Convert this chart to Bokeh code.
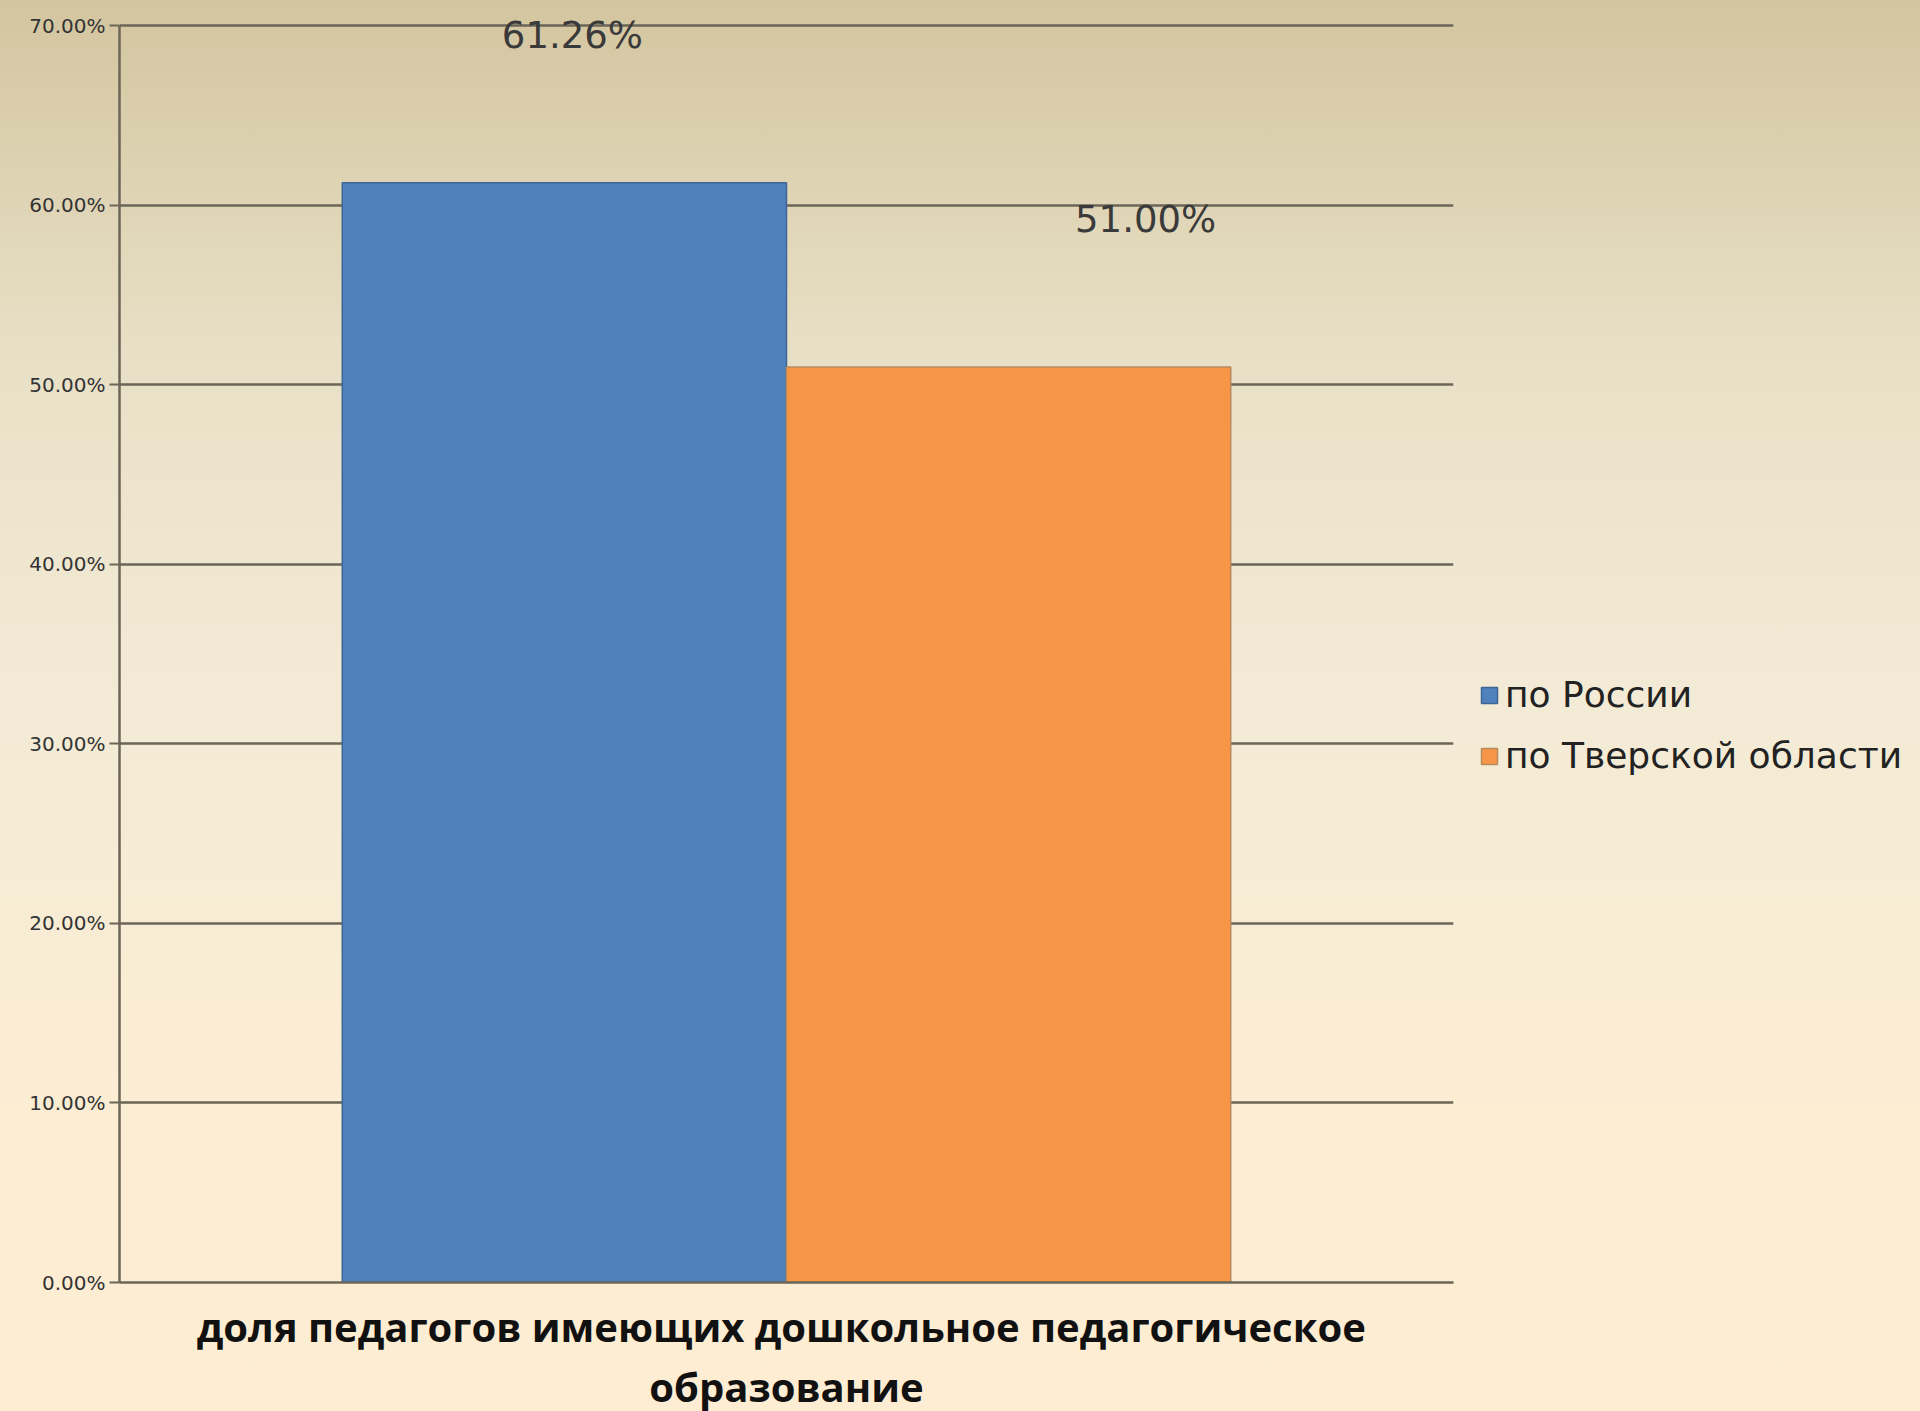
from bokeh.plotting import figure
from bokeh.models import (FactorRange, Range1d, FixedTicker, PrintfTickFormatter,
                          Legend, LegendItem, ColumnDataSource, LabelSet)
from bokeh.transform import dodge
from bokeh.core.properties import value
from bokeh.embed import file_html
from bokeh.resources import INLINE

# ---- data ----
category = ["доля педагогов  имеющих дошкольное педагогическое\nобразование"]
series_names = ["по России", "по Тверской области"]
russia = [61.26]
tver = [51.00]
russia_labels = ["61.26%"]
tver_labels = ["51.00%"]
y_ticks = [0, 10, 20, 30, 40, 50, 60, 70]

blue = "#4f81bd"
orange = "#f79646"

p = figure(x_range=FactorRange(factors=category, range_padding=0),
           y_range=Range1d(0, 71.3),
           frame_width=1334, frame_height=1280,
           output_backend="svg", toolbar_location=None,
           min_border_left=119, min_border_right=0,
           min_border_top=2, min_border_bottom=0)

p.background_fill_alpha = 0
p.border_fill_alpha = 0
p.outline_line_color = None
p.styles = {"background": "linear-gradient(to bottom, #d3c59f 0%, #e8e0c6 25%, #f3ebd6 50%, #fbedd3 75%, #feedd2 100%)"}

src_r = ColumnDataSource(dict(x=category, top=russia, label=russia_labels))
src_t = ColumnDataSource(dict(x=category, top=tver, label=tver_labels))

r1 = p.vbar(x=dodge("x", -0.1665, range=p.x_range), top="top", width=0.333,
            source=src_r, fill_color=blue, line_color="#3d6596", line_width=1.5)
r2 = p.vbar(x=dodge("x", 0.1665, range=p.x_range), top="top", width=0.333,
            source=src_t, fill_color=orange, line_color="#b88a5e", line_width=1.5)

p.add_layout(LabelSet(x=dodge("x", -0.1665, range=p.x_range), y="top", text="label",
                      source=src_r, x_offset=8, y_offset=147,
                      text_align="center", text_baseline="middle",
                      text_font=value("DejaVu Sans"), text_font_size=value("37px"),
                      text_color=value("#3a3a3a")))
p.add_layout(LabelSet(x=dodge("x", 0.1665, range=p.x_range), y="top", text="label",
                      source=src_t, x_offset=137, y_offset=147,
                      text_align="center", text_baseline="middle",
                      text_font=value("DejaVu Sans"), text_font_size=value("37px"),
                      text_color=value("#3a3a3a")))

# grid
p.xgrid.grid_line_color = None
p.ygrid.ticker = FixedTicker(ticks=y_ticks)
p.ygrid.grid_line_color = "#6b6658"
p.ygrid.grid_line_width = 2.5

# y axis
p.yaxis.ticker = FixedTicker(ticks=y_ticks)
p.yaxis.bounds = (0, 70)
p.yaxis.formatter = PrintfTickFormatter(format="%.2f%%")
p.yaxis.axis_line_color = "#6b6658"
p.yaxis.axis_line_width = 2.5
p.yaxis.major_tick_line_color = "#6b6658"
p.yaxis.major_tick_line_width = 2
p.yaxis.major_tick_out = 10
p.yaxis.major_tick_in = 0
p.yaxis.minor_tick_line_color = None
p.yaxis.major_label_standoff = 4
p.yaxis.major_label_text_font = "DejaVu Sans"
p.yaxis.major_label_text_font_size = "20px"
p.yaxis.major_label_text_color = "#333333"

# x axis
p.xaxis.axis_line_color = "#6b6658"
p.xaxis.axis_line_width = 2.5
p.xaxis.major_tick_line_color = None
p.xaxis.minor_tick_line_color = None
p.xaxis.major_label_standoff = 10
p.xaxis.major_label_text_font = "Open Sans"
p.xaxis.major_label_text_font_style = "bold"
p.xaxis.major_label_text_font_size = "40px"
p.xaxis.major_label_text_line_height = 1.1
p.xaxis.major_label_text_color = "#111111"
p.xaxis.major_label_orientation = "horizontal"

legend = Legend(items=[LegendItem(label=series_names[0], renderers=[r1]),
                       LegendItem(label=series_names[1], renderers=[r2])],
                location=(26, 506), orientation="vertical",
                margin=0, padding=4, spacing=20,
                glyph_width=20, glyph_height=20, label_standoff=6,
                label_text_font="DejaVu Sans", label_text_font_size="36px",
                label_text_color="#222222",
                background_fill_alpha=0, border_line_color=None)
p.add_layout(legend, "right")

open("out.html", "w").write(file_html(p, INLINE))
